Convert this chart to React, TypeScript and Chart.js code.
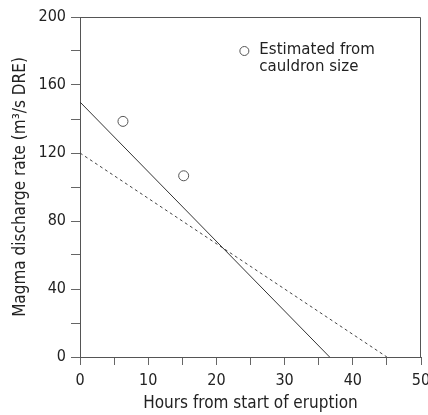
import React, { useEffect, useRef } from "react";
import { Chart, registerables } from "chart.js";

Chart.register(...registerables);

const solidX = [0, 36.6];
const solidY = [150, 0];
const dashedX = [0, 45];
const dashedY = [120, 0];
const estX = [6.3, 15.2];
const estY = [138.6, 106.6];
const legendX = 24.1;
const legendY = 180;
const legendLines = ["Estimated from", "cauldron size"];
const xTitle = "Hours from start of eruption";
const yTitle = "Magma discharge rate (m³/s DRE)";

const AXIS_FONT = "'DejaVu Sans Condensed', 'Noto Sans', sans-serif";

const pts = (xs: number[], ys: number[]) => xs.map((x, i) => ({ x, y: ys[i] }));

const framePlugin = {
  id: "frame",
  afterDatasetsDraw(chart: any) {
    const { ctx, chartArea: a, scales } = chart;
    ctx.save();
    ctx.strokeStyle = "#555";
    ctx.lineWidth = 1;
    ctx.beginPath();
    ctx.moveTo(a.left, a.top + 0.5);
    ctx.lineTo(a.right - 0.5, a.top + 0.5);
    ctx.lineTo(a.right - 0.5, a.bottom);
    ctx.stroke();
    // legend marker
    const px = scales.x.getPixelForValue(legendX);
    const py = scales.y.getPixelForValue(legendY);
    ctx.beginPath();
    ctx.arc(px, py, 4.5, 0, Math.PI * 2);
    ctx.fillStyle = "#fff";
    ctx.fill();
    ctx.strokeStyle = "#555";
    ctx.stroke();
    ctx.fillStyle = "#222";
    ctx.font = "15px 'DejaVu Sans', sans-serif";
    ctx.textBaseline = "alphabetic";
    ctx.textAlign = "left";
    legendLines.forEach((t, i) => ctx.fillText(t, px + 15, py + 3 + i * 17));
    ctx.restore();
  },
};

export default function App() {
  const ref = useRef<HTMLCanvasElement>(null);
  useEffect(() => {
    document.body.style.margin = "0";
    const chart = new Chart(ref.current!, {
      type: "scatter",
      data: {
        datasets: [
          {
            data: pts(solidX, solidY),
            showLine: true,
            borderColor: "#333",
            borderWidth: 1,
            pointRadius: 0,
          },
          {
            data: pts(dashedX, dashedY),
            showLine: true,
            borderColor: "#444",
            borderWidth: 1,
            borderDash: [3, 3],
            pointRadius: 0,
          },
          {
            data: pts(estX, estY),
            showLine: false,
            pointRadius: 5,
            pointBorderColor: "#555",
            pointBackgroundColor: "#fff",
            pointBorderWidth: 1,
          },
        ],
      },
      options: {
        animation: false,
        responsive: false,
        events: [],
        layout: { padding: { top: 17, right: 7, left: 0, bottom: 0 } },
        plugins: { legend: { display: false }, tooltip: { enabled: false } },
        scales: {
          x: {
            type: "linear",
            min: 0,
            max: 50,
            afterFit(s: any) {
              s.height = 58;
              s.paddingLeft = 0;
              s.paddingRight = 0;
            },
            ticks: {
              stepSize: 5,
              autoSkip: false,
              maxRotation: 0,
              padding: 6,
              color: "#222",
              font: { family: AXIS_FONT, size: 16 },
              callback: (v: any) => (v % 10 === 0 ? String(v) : ""),
            },
            grid: {
              drawOnChartArea: false,
              drawTicks: true,
              tickLength: 8,
              color: "#666",
            },
            border: { display: true, color: "#555", width: 1 },
            title: {
              display: true,
              text: xTitle,
              color: "#222",
              font: { family: AXIS_FONT, size: 17 },
              padding: { top: 0, bottom: 1 },
            },
          },
          y: {
            type: "linear",
            min: 0,
            max: 200,
            afterFit(s: any) {
              s.width = 80;
              s.paddingTop = 0;
              s.paddingBottom = 0;
            },
            ticks: {
              stepSize: 20,
              autoSkip: false,
              padding: 5,
              color: "#222",
              font: { family: AXIS_FONT, size: 16 },
              callback: (v: any) => (v % 40 === 0 ? String(v) : ""),
            },
            grid: {
              drawOnChartArea: false,
              drawTicks: true,
              tickLength: 9,
              color: "#666",
            },
            border: { display: true, color: "#555", width: 1 },
            title: {
              display: true,
              text: yTitle,
              color: "#222",
              font: { family: AXIS_FONT, size: 17 },
              padding: { top: 10, bottom: 0 },
            },
          },
        },
      },
      plugins: [framePlugin],
    });
    return () => chart.destroy();
  }, []);
  return (
    <div style={{ width: 428, height: 415 }}>
      <canvas ref={ref} width={428} height={415} />
    </div>
  );
}
